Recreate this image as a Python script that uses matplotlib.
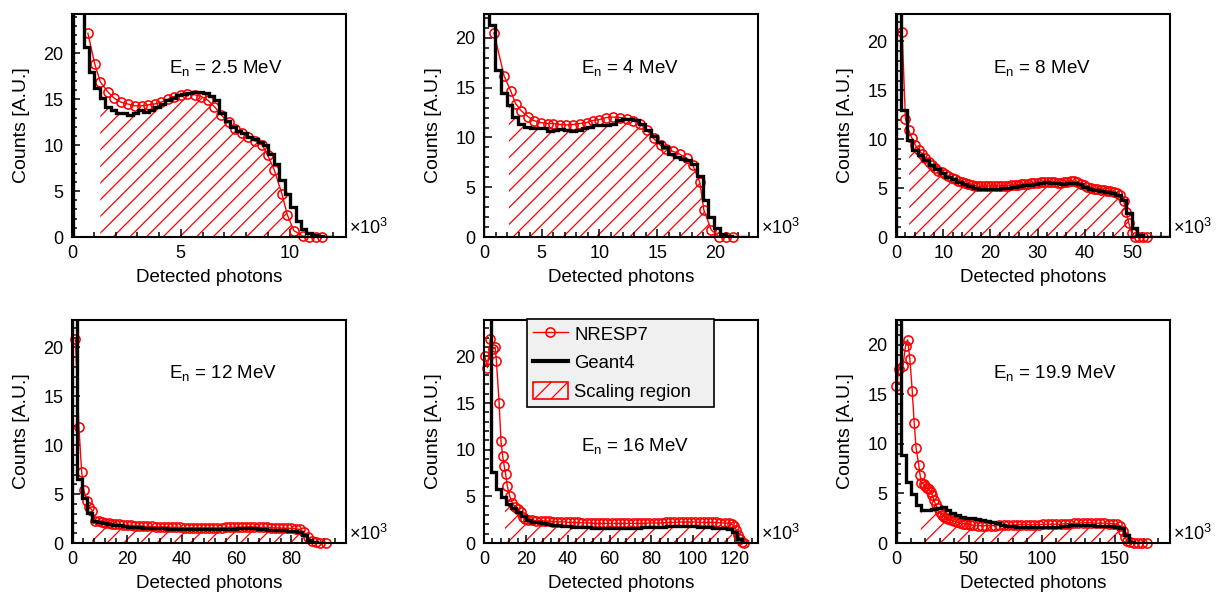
import numpy as np
import matplotlib
matplotlib.use("Agg")
import matplotlib.pyplot as plt
from matplotlib.lines import Line2D
from matplotlib.patches import Patch
from matplotlib.ticker import MultipleLocator

plt.rcParams['font.family'] = ['Liberation Sans', 'DejaVu Sans']
plt.rcParams['mathtext.default'] = 'regular'
plt.rcParams['hatch.linewidth'] = 0.9

# ---------------------------------------------------------------- data
energies = ['2.5', '4', '8', '12', '16', '19.9']

# NRESP7 response (x in units of 10^3 detected photons)
nresp_x_25 = [0.73, 1.04, 1.3, 1.65, 1.95, 2.25, 2.55, 2.9, 3.2, 3.5,
              3.8, 4.1, 4.4, 4.7, 5.0, 5.3, 5.65, 5.95, 6.25, 6.55,
              6.86, 7.2, 7.5, 7.8, 8.1, 8.4, 8.75, 9.0, 9.3, 9.65,
              9.9, 10.2, 10.6, 10.9, 11.2, 11.5]
nresp_y_25 = [22.2, 18.9, 16.9, 15.8, 15.1, 14.7, 14.5, 14.3, 14.3, 14.4,
              14.5, 14.7, 15.0, 15.3, 15.5, 15.6, 15.5, 15.3, 14.9, 14.2,
              13.3, 12.5, 11.8, 11.3, 10.9, 10.5, 10.0, 8.9, 7.3, 4.7,
              2.4, 0.7, 0.1, 0.0, 0.0, 0.0]

nresp_x_4 = [0.86, 1.73, 2.3, 2.73, 3.2, 3.8, 4.3, 4.9, 5.5, 6.0,
             6.6, 7.1, 7.7, 8.3, 8.9, 9.4, 10.0, 10.6, 11.2, 11.8,
             12.4, 12.9, 13.5, 14.1, 14.7, 15.3, 15.8, 16.4, 17.0, 17.6,
             18.1, 18.7, 19.05, 19.7, 20.4, 21.0, 21.6]
nresp_y_4 = [20.5, 16.2, 14.7, 13.4, 12.7, 12.1, 11.7, 11.5, 11.4, 11.4,
             11.3, 11.25, 11.3, 11.4, 11.5, 11.7, 11.8, 12.0, 12.05, 12.0,
             11.9, 11.7, 11.4, 10.8, 9.9, 9.2, 8.8, 8.6, 8.3, 7.9,
             7.2, 5.5, 2.7, 0.7, 0.0, 0.0, 0.0]

nresp_x_8 = [1.3, 2.0, 2.7, 3.4, 4.1, 4.8, 5.5, 6.2, 6.9, 7.6,
             8.3, 9.0, 9.7, 10.4, 11.1, 11.8, 12.5, 13.2, 13.9, 14.6,
             15.3, 16.0, 16.7, 17.4, 18.1, 18.8, 19.5, 20.2, 20.9, 21.6,
             22.3, 23.0, 23.7, 24.4, 25.1, 25.8, 26.5, 27.2, 27.9, 28.6,
             29.3, 30.0, 30.7, 31.4, 32.1, 32.8, 33.5, 34.2, 34.9, 35.6,
             36.3, 37.0, 37.7, 38.4, 39.1, 39.8, 40.5, 41.2, 41.9, 42.6,
             43.3, 44.0, 44.7, 45.4, 46.1, 46.8, 47.5, 48.2, 48.7, 49.3,
             49.9, 50.6, 51.4, 52.3, 53.2]
nresp_y_8 = [21.0, 12.1, 10.9, 10.1, 9.4, 8.9, 8.5, 8.1, 7.7, 7.4,
             7.1, 6.8, 6.6, 6.4, 6.2, 6.0, 5.9, 5.75, 5.6, 5.5,
             5.4, 5.3, 5.25, 5.2, 5.2, 5.2, 5.2, 5.2, 5.2, 5.2,
             5.2, 5.25, 5.25, 5.3, 5.3, 5.35, 5.4, 5.4, 5.45, 5.5,
             5.5, 5.55, 5.6, 5.6, 5.65, 5.65, 5.6, 5.55, 5.55, 5.6,
             5.65, 5.7, 5.7, 5.6, 5.45, 5.3, 5.15, 5.05, 4.95, 4.9,
             4.85, 4.8, 4.75, 4.7, 4.6, 4.5, 4.3, 3.7, 2.6, 1.4,
             0.4, 0.05, 0.0, 0.0, 0.0]

nresp_x_12 = [1.2, 2.5, 3.5, 4.3, 5.4, 6.2, 7.4, 8.5, 9.7, 10.9,
              12.1, 13.3, 14.5, 15.7, 17.0, 18.5, 20.0, 21.5, 23.0, 24.5,
              26.0, 27.5, 29.0, 30.5, 32.0, 33.5, 35.0, 36.5, 38.0, 39.5,
              41.0, 42.5, 44.0, 45.5, 47.0, 48.5, 50.0, 51.5, 53.0, 54.5,
              56.0, 57.5, 59.0, 60.5, 62.0, 63.5, 65.0, 66.5, 68.0, 69.5,
              71.0, 72.5, 74.0, 75.5, 77.0, 78.5, 80.0, 81.5, 83.0, 84.5,
              86.0, 87.5, 89.0, 90.5, 92.5]
nresp_y_12 = [20.9, 11.9, 7.3, 5.4, 4.3, 3.7, 3.3, 2.3, 2.2, 2.1,
              2.05, 2.0, 1.95, 1.9, 1.9, 1.85, 1.8, 1.8, 1.75, 1.75,
              1.7, 1.7, 1.7, 1.65, 1.65, 1.65, 1.6, 1.6, 1.6, 1.6,
              1.55, 1.55, 1.55, 1.55, 1.55, 1.55, 1.55, 1.55, 1.55, 1.55,
              1.6, 1.6, 1.6, 1.6, 1.6, 1.65, 1.65, 1.65, 1.6, 1.6,
              1.6, 1.55, 1.55, 1.55, 1.5, 1.5, 1.5, 1.45, 1.4, 1.1,
              0.6, 0.25, 0.08, 0.02, 0.0]

nresp_x_16 = [0.4, 1.6, 3.0, 4.4, 5.3, 5.9, 7.2, 8.1, 8.9, 9.6,
              10.3, 11.1, 12.3, 13.5, 14.8, 16.2, 17.5, 18.5, 19.5, 21.0,
              23.0, 25.0, 27.0, 29.0, 31.0, 33.0, 35.0, 37.0, 39.0, 41.0,
              43.0, 45.0, 47.0, 49.0, 51.0, 53.0, 55.0, 57.0, 59.0, 61.0,
              63.0, 65.0, 67.0, 69.0, 71.0, 73.0, 75.0, 77.0, 79.0, 81.0,
              83.0, 85.0, 87.0, 89.0, 91.0, 93.0, 95.0, 97.0, 99.0, 101.0,
              103.0, 105.0, 107.0, 109.0, 111.0, 113.0, 115.0, 117.0, 118.5, 119.5,
              120.5, 121.5, 122.5, 123.5, 124.5]
nresp_y_16 = [20.0, 18.8, 21.9, 20.8, 21.0, 19.5, 15.0, 10.9, 9.3, 8.3,
              7.4, 6.1, 5.0, 4.3, 3.9, 3.6, 3.3, 2.8, 2.55, 2.5,
              2.45, 2.4, 2.4, 2.35, 2.35, 2.3, 2.3, 2.25, 2.25, 2.2,
              2.2, 2.2, 2.15, 2.15, 2.15, 2.1, 2.1, 2.1, 2.1, 2.1,
              2.1, 2.1, 2.1, 2.1, 2.1, 2.1, 2.1, 2.1, 2.15, 2.15,
              2.15, 2.15, 2.2, 2.2, 2.2, 2.25, 2.25, 2.25, 2.25, 2.25,
              2.2, 2.2, 2.2, 2.2, 2.2, 2.15, 2.15, 2.1, 2.0, 1.8,
              1.4, 0.9, 0.4, 0.1, 0.0]

nresp_x_199 = [0.3, 2.0, 4.8, 6.6, 8.0, 9.5, 11.2, 12.5, 13.8, 15.6,
               16.5, 17.5, 19.0, 20.2, 21.5, 22.7, 23.8, 25.0, 26.0, 27.2,
               28.5, 30.0, 31.5, 33.0, 34.5, 36.0, 38.0, 40.0, 42.0, 44.0,
               46.0, 48.0, 50.5, 53.0, 56.0, 59.0, 62.0, 65.0, 68.0, 71.0,
               74.0, 77.0, 80.0, 83.0, 86.0, 89.0, 92.0, 95.0, 98.0, 101.0,
               104.0, 107.0, 110.0, 113.0, 116.0, 119.0, 122.0, 125.0, 128.0, 131.0,
               134.0, 137.0, 140.0, 143.0, 146.0, 149.0, 151.5, 154.0, 155.5, 157.0,
               158.5, 160.5, 163.0, 166.0, 169.0, 172.0]
nresp_y_199 = [15.8, 17.6, 17.9, 19.9, 20.5, 18.6, 15.3, 12.1, 9.6, 7.9,
               6.9, 6.1, 5.95, 5.8, 5.6, 5.4, 5.15, 4.8, 4.3, 3.9,
               3.5, 3.1, 2.85, 2.65, 2.5, 2.4, 2.3, 2.2, 2.1, 2.0,
               1.95, 1.9, 1.85, 1.8, 1.75, 1.75, 1.75, 1.75, 1.75, 1.8,
               1.8, 1.8, 1.8, 1.85, 1.85, 1.85, 1.85, 1.85, 1.85, 1.9,
               1.9, 1.9, 1.9, 1.9, 1.95, 1.95, 2.0, 2.0, 2.05, 2.05,
               2.05, 2.0, 2.0, 2.0, 1.95, 1.95, 1.9, 1.7, 1.2, 0.6,
               0.25, 0.08, 0.03, 0.02, 0.01, 0.01]

# Geant4 histograms: first bin edge, bin width and bin contents
g4_lo_25, g4_w_25 = 0.03, 0.25
g4_y_25 = [60, 45, 20.7, 18.0, 16.2, 15.1, 14.2, 13.8, 13.5, 13.5,
           13.3, 13.5, 13.8, 13.6, 13.8, 14.2, 14.5, 14.9, 15.2, 15.5,
           15.6, 15.7, 15.8, 15.8, 15.7, 15.4, 14.9, 13.5, 12.6, 12.0,
           11.6, 11.3, 10.9, 10.7, 10.4, 10.0, 9.1, 8.0, 6.2, 4.7,
           3.3, 1.8, 0.9, 0.4, 0.2, 0.1, 0.05, 0.03]

g4_lo_4, g4_w_4 = -0.05, 0.5
g4_y_4 = [60, 21.3, 16.8, 14.5, 13.3, 12.1, 11.4, 11.1, 11.0, 11.0,
          11.0, 10.6, 10.8, 10.9, 10.8, 10.6, 10.8, 11.0, 11.1, 11.3,
          11.3, 11.3, 11.4, 11.8, 11.9, 11.9, 11.8, 11.4, 10.7, 10.1,
          9.5, 9.0, 8.3, 8.0, 7.8, 7.7, 7.3, 6.1, 3.7, 2.0,
          0.9, 0.3, 0.1, 0.05, 0.02, 0.01]

g4_lo_8, g4_w_8 = 0.0, 1.16
g4_y_8 = [60, 13.0, 9.9, 8.9, 8.4, 7.9, 7.4, 7.0, 6.5, 6.1,
          5.9, 5.6, 5.4, 5.2, 5.0, 4.9, 4.9, 4.9, 4.95, 5.0,
          5.0, 5.1, 5.2, 5.3, 5.3, 5.4, 5.5, 5.6, 5.5, 5.5,
          5.4, 5.5, 5.5, 5.4, 5.1, 4.9, 4.8, 4.7, 4.6, 4.5,
          4.3, 3.8, 2.5, 0.9, 0.2, 0.05, 0.03, 0.02, 0.01, 0.01]

g4_lo_12, g4_w_12 = 0.0, 1.82
g4_y_12 = [60, 6.5, 4.6, 3.1, 2.2, 2.1, 2.0, 1.95, 1.85, 1.8,
           1.7, 1.65, 1.6, 1.6, 1.55, 1.55, 1.5, 1.5, 1.5, 1.45,
           1.45, 1.45, 1.4, 1.4, 1.4, 1.4, 1.4, 1.4, 1.4, 1.45,
           1.45, 1.45, 1.45, 1.5, 1.5, 1.55, 1.5, 1.45, 1.4, 1.35,
           1.35, 1.3, 1.3, 1.25, 1.2, 1.15, 0.8, 0.35, 0.1, 0.03]

g4_lo_16, g4_w_16 = -1.6, 2.4
g4_y_16 = [60, 60, 7.6, 5.8, 4.9, 4.2, 3.7, 3.3, 2.9, 2.5, 2.3,
           2.2, 2.1, 2.0, 1.95, 1.9, 1.85, 1.8, 1.75, 1.75, 1.7,
           1.7, 1.65, 1.6, 1.6, 1.6, 1.6, 1.6, 1.6, 1.6, 1.65,
           1.65, 1.7, 1.7, 1.7, 1.75, 1.75, 1.8, 1.8, 1.85, 1.85,
           1.8, 1.8, 1.75, 1.7, 1.7, 1.65, 1.65, 1.6, 1.55, 1.2,
           0.4, 0.05]

g4_lo_199, g4_w_199 = 0.0, 3.4
g4_y_199 = [60, 8.9, 6.2, 4.9, 3.8, 3.35, 3.3, 3.4, 3.55, 3.6,
            3.3, 3.0, 2.8, 2.65, 2.55, 2.5, 2.4, 2.3, 2.2, 2.1,
            2.0, 1.8, 1.7, 1.7, 1.65, 1.65, 1.65, 1.65, 1.65, 1.65,
            1.65, 1.65, 1.65, 1.7, 1.75, 1.8, 1.8, 1.8, 1.8, 1.8,
            1.75, 1.7, 1.7, 1.7, 1.65, 1.5, 0.8, 0.15, 0.05, 0.05]

# scaling regions (10^3 photons)
scale_lo = [1.3, 2.15, 2.8, 7.3, 10.0, 17.0]
scale_hi = [10.3, 20.0, 49.5, 83.5, 118.5, 153.0]

# axis ranges and tick spacing
x_max = [12.6, 23.75, 58.0, 99.9, 131.0, 188.0]
y_max = [24.3, 22.4, 22.8, 22.8, 23.9, 22.5]
x_major = [5, 5, 10, 20, 20, 50]
x_minor = [1, 1, 2, 4, 4, 10]
label_y = [0.735, 0.735, 0.735, 0.74, 0.413, 0.74]

panels = [
    (nresp_x_25, nresp_y_25, g4_lo_25, g4_w_25, g4_y_25),
    (nresp_x_4, nresp_y_4, g4_lo_4, g4_w_4, g4_y_4),
    (nresp_x_8, nresp_y_8, g4_lo_8, g4_w_8, g4_y_8),
    (nresp_x_12, nresp_y_12, g4_lo_12, g4_w_12, g4_y_12),
    (nresp_x_16, nresp_y_16, g4_lo_16, g4_w_16, g4_y_16),
    (nresp_x_199, nresp_y_199, g4_lo_199, g4_w_199, g4_y_199),
]

# ---------------------------------------------------------------- figure
fig = plt.figure(figsize=(12.19, 5.96), dpi=100)
lefts = [0.0591, 0.3971, 0.7350]
bottoms = [0.6023, 0.0889]
width, height = 0.2248, 0.3742

RED = '#ff0000'
FS = 13

for i, (rx, ry, lo, w, gy) in enumerate(panels):
    ax = fig.add_axes([lefts[i % 3], bottoms[i // 3], width, height])
    rx = np.asarray(rx)
    ry = np.asarray(ry)
    gy = np.asarray(gy, dtype=float)
    edges = lo + w * np.arange(len(gy) + 1)

    # hatched scaling region, under both curves
    g = np.linspace(scale_lo[i], scale_hi[i], 1500)
    idx = np.clip(np.searchsorted(edges, g, side='right') - 1, 0, len(gy) - 1)
    top = np.minimum(np.interp(g, rx, ry), gy[idx])
    ax.fill_between(g, 0, top, facecolor='none', edgecolor=RED,
                    hatch='//', linewidth=0, zorder=1)

    ax.plot(rx, ry, '-o', color=RED, lw=1.0, ms=6.6, mfc='none',
            mec=RED, mew=1.15, zorder=2, clip_on=False)
    ax.stairs(gy, edges, color='black', lw=2.4, baseline=0, zorder=3)

    ax.set_xlim(0, x_max[i])
    ax.set_ylim(0, y_max[i])
    ax.xaxis.set_major_locator(MultipleLocator(x_major[i]))
    ax.xaxis.set_minor_locator(MultipleLocator(x_minor[i]))
    ax.yaxis.set_major_locator(MultipleLocator(5))
    ax.yaxis.set_minor_locator(MultipleLocator(1))
    ax.tick_params(which='both', direction='in', top=False, right=False,
                   labelsize=FS, width=1.1, pad=6)
    ax.tick_params(which='major', length=6)
    ax.tick_params(which='minor', length=3.5)
    for s in ax.spines.values():
        s.set_linewidth(1.5)

    ax.set_xlabel('Detected photons', fontsize=13.5, labelpad=5)
    ax.set_ylabel('Counts [A.U.]', fontsize=14, labelpad=10)
    ax.text(1.012, 0.012, '\u00d710$^{3}$', transform=ax.transAxes,
            fontsize=FS, ha='left', va='baseline')
    ax.text(0.355, label_y[i], 'E$_{n}$ = %s MeV' % energies[i],
            transform=ax.transAxes, fontsize=13.5, ha='left', va='baseline')

    if i == 4:
        handles = [
            Line2D([], [], color=RED, lw=1.0, marker='o', ms=6.6,
                   mfc='none', mec=RED, mew=1.15),
            Line2D([], [], color='black', lw=3.0),
            Patch(facecolor='none', edgecolor=RED, hatch='//', lw=1.2),
        ]
        leg = ax.legend(handles, ['NRESP7', 'Geant4', 'Scaling region'],
                        loc='upper left', bbox_to_anchor=(0.155, 1.005, 0.684, 0),
                        mode='expand', fontsize=13.3, handlelength=1.9,
                        handleheight=1.0, handletextpad=0.35,
                        labelspacing=0.55, borderpad=0.33, borderaxespad=0,
                        fancybox=False, framealpha=1, facecolor='#f0f0f0',
                        edgecolor='black')
        leg.get_frame().set_linewidth(1.2)
        leg.set_zorder(10)

fig.savefig('out.png', dpi=100)
